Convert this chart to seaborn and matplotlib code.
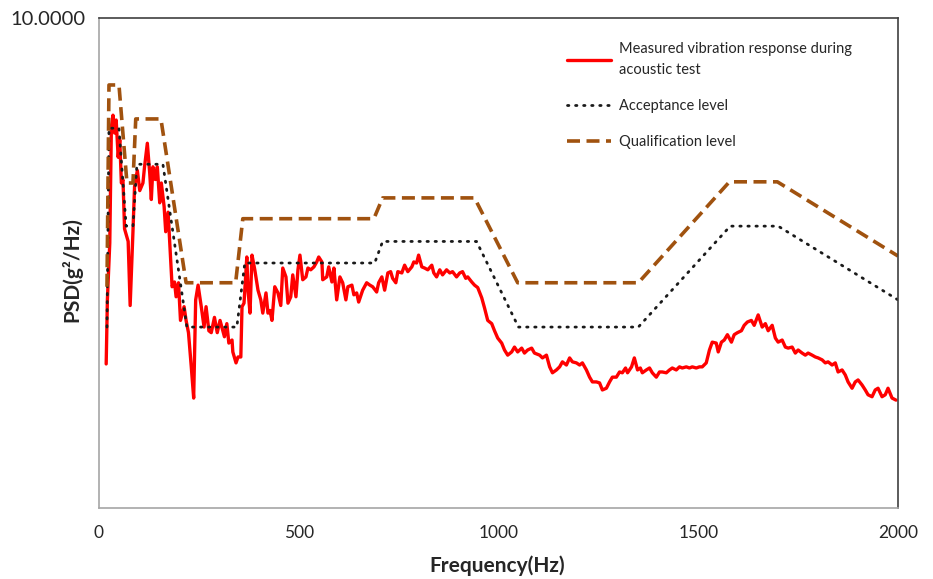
import numpy as np
import pandas as pd
import matplotlib
matplotlib.use("Agg")
import matplotlib.pyplot as plt
import seaborn as sns

# Acceptance / qualification PSD levels (breakpoints, g^2/Hz)
acc_freq = [20, 25, 50, 68, 85, 95, 160, 220, 345, 365, 690, 710, 945, 1050, 1350, 1580, 1700, 2000]
acc_psd = [0.030, 1.26, 1.26, 0.20, 0.20, 0.64, 0.64, 0.030, 0.030, 0.10, 0.10, 0.15, 0.15, 0.030, 0.030, 0.20, 0.20, 0.050]

qual_freq = [20, 25, 50, 70, 85, 92, 155, 218, 342, 360, 688, 710, 940, 1048, 1350, 1578, 1698, 2000]
qual_psd = [0.064, 2.84, 2.84, 0.45, 0.45, 1.50, 1.50, 0.069, 0.069, 0.23, 0.23, 0.34, 0.34, 0.069, 0.069, 0.46, 0.46, 0.114]

# Measured response during acoustic test
meas_freq = [18, 21, 27, 31, 35, 39, 43, 48, 52, 56, 60, 64, 73, 78, 85, 89, 96, 102, 110, 114,
             121, 127, 131, 135, 141, 146, 152, 156, 163, 167, 173, 177, 183, 189, 193, 199, 204, 213, 218, 224,
             231, 237, 242, 248, 256, 263, 268, 275, 281, 289, 296, 303, 314, 320, 325, 333, 335, 343, 348, 355,
             358, 363, 370, 373, 378, 383, 390, 398, 405, 410, 418, 423, 428, 433, 440, 448, 455, 460, 468, 473,
             480, 485, 493, 498, 503, 510, 518, 523, 530, 538, 545, 550, 558, 560, 570, 575, 583, 588, 595, 603,
             610, 618, 623, 633, 638, 645, 650, 660, 670, 678, 685, 695, 700, 708, 715, 723, 730, 735, 743, 748,
             758, 765, 773, 783, 788, 795, 800, 808, 815, 823, 833, 838, 845, 853, 860, 870, 878, 885, 895, 903,
             910, 918, 923, 933, 940, 948, 958, 965, 973, 983, 990, 998, 1008, 1015, 1023, 1033, 1040, 1048, 1058, 1065,
             1073, 1083, 1090, 1103, 1110, 1120, 1128, 1135, 1145, 1153, 1160, 1170, 1178, 1185, 1195, 1203, 1210, 1220, 1228, 1235,
             1245, 1253, 1260, 1270, 1278, 1285, 1295, 1303, 1310, 1318, 1323, 1333, 1340, 1348, 1355, 1360, 1370, 1378, 1385, 1395,
             1403, 1410, 1420, 1428, 1435, 1445, 1453, 1460, 1470, 1478, 1485, 1495, 1503, 1510, 1520, 1528, 1535, 1545, 1550, 1558,
             1565, 1573, 1583, 1590, 1598, 1608, 1615, 1623, 1633, 1640, 1650, 1660, 1668, 1675, 1685, 1693, 1700, 1710, 1718, 1725,
             1735, 1743, 1750, 1760, 1768, 1775, 1785, 1793, 1800, 1810, 1818, 1825, 1835, 1843, 1850, 1860, 1868, 1875, 1885, 1893,
             1900, 1910, 1918, 1925, 1935, 1943, 1950, 1960, 1968, 1975, 1985, 1995]
meas_psd = [0.015, 0.050, 0.146, 1.29, 1.61, 1.15, 1.47, 0.73, 1.01, 0.45, 0.48, 0.19, 0.15, 0.045, 0.18, 0.42, 0.57, 0.39, 0.45, 0.61,
            0.95, 0.54, 0.33, 0.61, 0.48, 0.61, 0.31, 0.45, 0.29, 0.18, 0.26, 0.15, 0.064, 0.070, 0.053, 0.069, 0.034, 0.044, 0.034, 0.027,
            0.0142, 0.0079, 0.050, 0.066, 0.044, 0.030, 0.044, 0.028, 0.027, 0.036, 0.027, 0.034, 0.025, 0.032, 0.0222, 0.0235, 0.0188, 0.0153, 0.0171, 0.0171,
            0.044, 0.047, 0.112, 0.060, 0.039, 0.116, 0.088, 0.060, 0.050, 0.039, 0.057, 0.039, 0.041, 0.034, 0.064, 0.057, 0.045, 0.091, 0.077, 0.047,
            0.053, 0.080, 0.053, 0.088, 0.116, 0.073, 0.077, 0.091, 0.088, 0.093, 0.102, 0.112, 0.102, 0.073, 0.077, 0.093, 0.070, 0.091, 0.050, 0.077,
            0.069, 0.050, 0.064, 0.066, 0.055, 0.057, 0.048, 0.060, 0.069, 0.066, 0.064, 0.058, 0.069, 0.077, 0.060, 0.083, 0.085, 0.075, 0.069, 0.085,
            0.083, 0.096, 0.085, 0.093, 0.102, 0.100, 0.116, 0.093, 0.091, 0.088, 0.096, 0.083, 0.077, 0.088, 0.080, 0.088, 0.083, 0.085, 0.077, 0.083,
            0.085, 0.075, 0.077, 0.070, 0.066, 0.063, 0.052, 0.043, 0.034, 0.032, 0.028, 0.0244, 0.0222, 0.0195, 0.0177, 0.0188, 0.0206, 0.0188, 0.0202, 0.0184,
            0.0195, 0.0202, 0.0184, 0.0177, 0.0168, 0.0177, 0.0142, 0.0127, 0.0134, 0.0142, 0.0156, 0.0147, 0.0168, 0.0156, 0.0153, 0.0147, 0.0153, 0.0134, 0.0117, 0.0107,
            0.0107, 0.0105, 0.0092, 0.0095, 0.0107, 0.0117, 0.0117, 0.0129, 0.0127, 0.0139, 0.0127, 0.0142, 0.0168, 0.0134, 0.0139, 0.0127, 0.0134, 0.0139, 0.0127, 0.0117,
            0.0129, 0.0129, 0.0127, 0.0134, 0.0139, 0.0134, 0.0142, 0.0139, 0.0142, 0.0139, 0.0142, 0.0139, 0.0142, 0.0142, 0.0153, 0.0195, 0.0226, 0.0222, 0.0188, 0.0226,
            0.0235, 0.026, 0.0226, 0.026, 0.027, 0.028, 0.031, 0.033, 0.034, 0.031, 0.0377, 0.030, 0.032, 0.028, 0.031, 0.0244, 0.0226, 0.0235, 0.0206, 0.0202,
            0.0206, 0.0184, 0.0195, 0.0184, 0.0177, 0.0184, 0.0177, 0.0171, 0.0168, 0.0162, 0.0153, 0.0156, 0.0147, 0.0153, 0.0129, 0.0134, 0.0122, 0.0107, 0.0095, 0.0107,
            0.0111, 0.0101, 0.0092, 0.0084, 0.0081, 0.0092, 0.0095, 0.0081, 0.0084, 0.0095, 0.0079, 0.0076]

sns.set_style("white")
plt.rcParams["font.family"] = ["Lato", "DejaVu Sans"]

fig = plt.figure(figsize=(9.33, 5.79), dpi=100)
ax = fig.add_axes([0.1061, 0.1226, 0.8564, 0.8463])

meas = pd.DataFrame({"freq": meas_freq, "psd": meas_psd})
acc = pd.DataFrame({"freq": acc_freq, "psd": acc_psd})
qual = pd.DataFrame({"freq": qual_freq, "psd": qual_psd})

sns.lineplot(data=meas, x="freq", y="psd", ax=ax, color="#FF0000", linewidth=2.4,
             estimator=None, sort=False, label="Measured vibration response during\nacoustic test")
sns.lineplot(data=acc, x="freq", y="psd", ax=ax, color="#1a1a1a", linewidth=2.0,
             estimator=None, sort=False, label="Acceptance level", linestyle=(0, (0.5, 2.4)),
             dash_capstyle="round")
sns.lineplot(data=qual, x="freq", y="psd", ax=ax, color="#A0520F", linewidth=2.6,
             estimator=None, sort=False, label="Qualification level", linestyle=(0, (3.6, 1.8)))

ax.set_yscale("log")
ax.set_xlim(0, 2000)
ax.set_ylim(0.001, 10)
ax.set_xticks([0, 500, 1000, 1500, 2000])
ax.set_xticklabels(["0", "500", "1000", "1500", "2000"], fontsize=12.5)
ax.set_yticks([10])
ax.set_yticklabels(["10.0000"], fontsize=14.5)
ax.yaxis.set_minor_locator(matplotlib.ticker.NullLocator())
ax.tick_params(axis="both", length=0)
ax.tick_params(axis="x", pad=12)
ax.tick_params(axis="y", pad=10)

ax.set_xlabel("Frequency(Hz)", fontsize=15, fontweight="bold")
ax.set_ylabel("PSD(g²/Hz)", fontsize=15, fontweight="bold")
ax.xaxis.set_label_coords(0.498, -0.096)
ax.yaxis.set_label_coords(-0.021, 0.486)

for side in ["left", "bottom"]:
    ax.spines[side].set_color("#a6a6a6")
    ax.spines[side].set_linewidth(1.2)
for side in ["top", "right"]:
    ax.spines[side].set_color("#404040")
    ax.spines[side].set_linewidth(1.2)

leg = ax.legend(loc="upper left", bbox_to_anchor=(0.569, 0.977), frameon=False, fontsize=10.5,
                handlelength=3.0, labelspacing=1.5, handletextpad=0.6)
for txt in leg.get_texts():
    txt.set_linespacing(1.6)

fig.savefig("out.png", dpi=100)
